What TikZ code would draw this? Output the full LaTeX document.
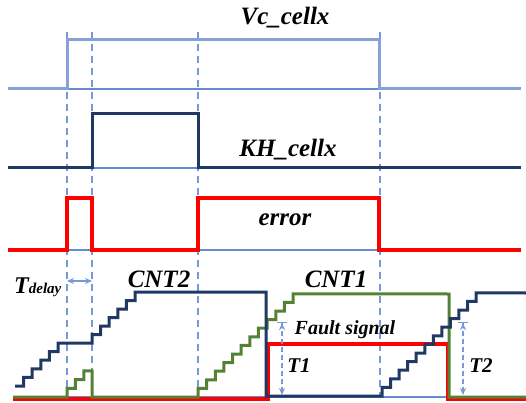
\documentclass[tikz,border=0pt]{standalone}
\usepackage{fontspec}
\setmainfont{Liberation Serif}
\usepackage{tikz}
\usetikzlibrary{
    calc,
    arrows.meta
}
\definecolor{vcblue}{RGB}{132,162,216}
\definecolor{baseblue}{RGB}{100,138,208}
\definecolor{markblue}{RGB}{120,152,214}
\definecolor{khnavy}{RGB}{31,56,100}
\definecolor{cntgreen}{RGB}{84,130,53}
\newcommand{\BI}[1]{\fontsize{#1}{#1}\selectfont\bfseries\itshape}

\begin{document}
\begin{tikzpicture}[x=1pt,y=-1pt,thin,
    baseline/.style={baseblue,line width=1.1pt},
    timemark/.style={markblue,line width=1.2pt,dash pattern=on 7pt off 5pt},
    span/.style={markblue,line width=1.2pt,{Stealth[length=7pt,width=6pt]}-{Stealth[length=7pt,width=6pt]}},
    sig/.style={anchor=base,inner sep=0pt,font=\BI{25}}]
\useasboundingbox (0,0) rectangle (526,403);

% zero levels
\draw[baseline] (8,89) -- (521,89);
\draw[baseline] (8,168) -- (521,168);
\draw[baseline] (8,250) -- (521,250);
\draw[baseline] (13,397) -- (526,397);

% time marks
\foreach \t in {67,92,198,380}
  \draw[timemark] (\t,32) -- (\t,397);

% Vc_cellx
\draw[vcblue,line width=3pt] (8,89) -- (67,89) -- (67,40) -- (379,40) -- (379,89) -- (521,89);
% KH_cellx
\draw[khnavy,line width=3pt] (8,168) -- (92,168) -- (92,114) -- (198,114) -- (198,168) -- (521,168);
% error
\draw[red,line width=3.5pt] (8,250) -- (67,250) -- (67,198) -- (92,198) -- (92,250)
  -- (198,250) -- (198,198) -- (379,198) -- (379,250) -- (521,250);

% fault signal
\draw[red,line width=3.5pt] (13,399) -- (268,399) -- (268,344) -- (448,344) -- (448,399) -- (526,399);
% CNT1
\draw[cntgreen,line width=3pt] (13,397) -- (67,397)
  \foreach \i in {1,...,3} { -- ++(0,-8.7) -- ++(8.4,0) }
  -- (92,397) -- (198,397)
  \foreach \i in {1,...,12} { -- ++(0,-8.6) -- ++(8.64,0) }
  -- (449,294) -- (449,397) -- (526,397);
% CNT2
\draw[khnavy,line width=3pt] (15,386)
  \foreach \i in {1,...,5} { -- ++(8.6,0) -- ++(0,-8.6) }
  -- (92,343)
  \foreach \i in {1,...,6} { -- ++(0,-8.5) -- ++(8.6,0) }
  -- (266,292) -- (266,396) -- (382,396)
  \foreach \i in {1,...,12} { -- ++(0,-8.6) -- ++(8.55,0) }
  -- (526,293);

% intervals
\coordinate (Da) at (67,281);
\coordinate (Db) at (92,281);
\coordinate (T1a) at (282,322);
\coordinate (T1b) at (282,395);
\coordinate (T2a) at (463,322);
\coordinate (T2b) at (463,395);
\draw[span] (Da) -- (Db);
\draw[span,dash pattern=on 5pt off 3pt,{Bar[width=10pt]Stealth[length=7pt,width=6pt]}-{Stealth[length=7pt,width=6pt]}] (T1a) -- (T1b);
\draw[span,dash pattern=on 5pt off 3pt,{Bar[width=10pt]Stealth[length=7pt,width=6pt]}-{Stealth[length=7pt,width=6pt]}] (T2a) -- (T2b);

% labels
\node[sig] (vclabel) at (285,25) {Vc\_cellx};
\node[sig] (khlabel) at (288,157) {KH\_cellx};
\node[sig] (errlabel) at (285,225) {error};
\node[sig] (cnt2label) at (159,287) {CNT2};
\node[sig] (cnt1label) at (336,287) {CNT1};
\node[sig,font=\BI{20}] (faultlabel) at (345,334) {Fault signal};
\node[sig,font=\BI{21}] (t1label) at (299,372) {T1};
\node[sig,font=\BI{21}] (t2label) at (481,372) {T2};
\node[sig,anchor=base west] (tdlabel) at (14,293) {\BI{24}T{\BI{15}delay}};
\end{tikzpicture}
\end{document}
